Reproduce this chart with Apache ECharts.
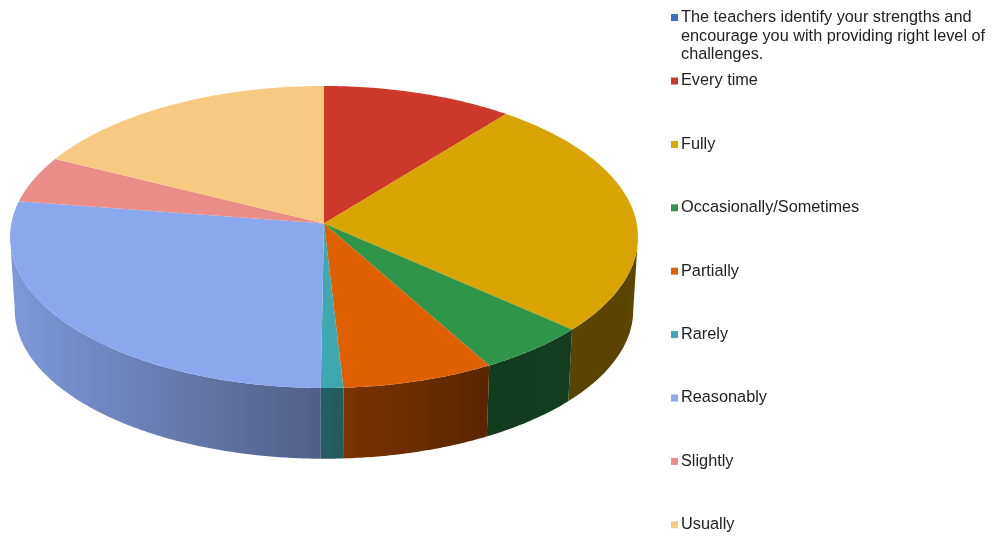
<!DOCTYPE html>
<html><head><meta charset="utf-8">
<style>html,body{margin:0;padding:0;background:#fff}#c{width:992px;height:537px}</style>
<script src="https://cdn.jsdelivr.net/npm/echarts@6/dist/echarts.min.js"></script>
</head><body><div id="c"></div>
<script>
const categories = [
  "The teachers identify your strengths and\nencourage you with providing right level of\nchallenges.",
  "Every time","Fully","Occasionally/Sometimes","Partially","Rarely","Reasonably","Slightly","Usually"
];
const values = [0, 10.7, 25.9, 5.3, 7.2, 1.05, 27.25, 5.0, 17.6];
const colors = ["#3a6fd0","#cc392b","#d9a400","#2e954a","#e06000","#3ea8b0","#8ba8ef","#ea8d88","#f8c981"];

// Perspective projection of the pie disc
const CX = 324, CY = 223.5, R = 312.7, A = 149.8, K = 0.0894;
const BASE_SCALE = 0.985, BASE_DY = 73, ELL_CY = 237;
const total = values.reduce((a, b) => a + b, 0);
const D2R = Math.PI / 180;
// Silhouette of the projected disc: cos(theta) = -K
const SIDE_R = Math.acos(-K) / D2R, SIDE_L = 360 - SIDE_R;

function topPt(deg) {
  const s = Math.sin(deg * D2R), y = -Math.cos(deg * D2R), w = 1 - K * y;
  return [CX + R * s / w, CY + A * y / w];
}
function basePt(deg) {
  const p = topPt(deg);
  return [CX + (p[0] - CX) * BASE_SCALE, ELL_CY + BASE_DY + (p[1] - ELL_CY) * BASE_SCALE];
}
function arc(fn, a, b) {
  const pts = [], n = Math.max(2, Math.ceil(Math.abs(b - a) / 0.5));
  for (let i = 0; i <= n; i++) pts.push(fn(a + (b - a) * i / n));
  return pts;
}
const LIGHT = [[0, 0.92], [319, 0.57], [342, 0.54], [490, 0.4], [640, 0.42]];
function light(x) {
  for (let i = 1; i < LIGHT.length; i++) {
    if (x <= LIGHT[i][0]) {
      const p = LIGHT[i - 1], q = LIGHT[i];
      return p[1] + (q[1] - p[1]) * (x - p[0]) / (q[0] - p[0]);
    }
  }
  return 0.42;
}
function shade(hex, f) {
  const n = parseInt(hex.slice(1), 16);
  return "rgb(" + [n >> 16 & 255, n >> 8 & 255, n & 255].map(v => Math.round(v * f)).join(",") + ")";
}

function makeRender(idx) {
  return function (params, api) {
    const v = api.value(0);
    if (!v) return { type: "group", children: [] };
    let before = 0;
    for (let i = 0; i < idx; i++) before += values[i];
    const a0 = before / total * 360, a1 = (before + v) / total * 360;
    const color = colors[idx];
    const children = [];
    const w0 = Math.max(a0, SIDE_R), w1 = Math.min(a1, SIDE_L);
    if (w1 > w0) {
      const t = arc(topPt, w0, w1), b = arc(basePt, w1, w0);
      const xs = t.concat(b).map(p => p[0]);
      const xMin = Math.min.apply(null, xs), xMax = Math.max.apply(null, xs);
      const span = Math.max(1, xMax - xMin);
      const stops = [];
      for (let i = 0; i <= 8; i++) stops.push({ offset: i / 8, color: shade(color, light(xMin + span * i / 8)) });
      children.push({
        type: "polygon", z2: 1,
        shape: { points: t.concat(b) },
        style: { fill: new echarts.graphic.LinearGradient(0, 0, 1, 0, stops) }
      });
    }
    children.push({
      type: "polygon", z2: 10,
      shape: { points: [[CX, CY]].concat(arc(topPt, a0, a1)) },
      style: { fill: color }
    });
    return { type: "group", children };
  };
}

const legendText = { color: "#222", fontFamily: "Liberation Sans", fontSize: 16.3, lineHeight: 18, padding: [0, 0, 0, -2] };
const option = {
  animation: false,
  backgroundColor: "#fff",
  legend: [
    {
      orient: "vertical", left: 671, top: -28.7, padding: 0, itemWidth: 7, itemHeight: 7, icon: "rect",
      selectedMode: false,
      // two blank lines above keep the marker level with the first text line
      formatter: name => "\n\n" + name,
      textStyle: Object.assign({}, legendText, { lineHeight: 18.5 }),
      data: [categories[0]]
    },
    {
      orient: "vertical", left: 671, top: 72, padding: 0, itemWidth: 7, itemHeight: 7, itemGap: 45.4, icon: "rect",
      selectedMode: false, textStyle: legendText,
      data: categories.slice(1)
    }
  ],
  series: categories.map((name, i) => ({
    type: "custom", name, coordinateSystem: "none",
    itemStyle: { color: colors[i] },
    renderItem: makeRender(i),
    data: [[values[i]]]
  }))
};
echarts.init(document.getElementById("c"), null, { renderer: "canvas" }).setOption(option);
</script></body></html>
